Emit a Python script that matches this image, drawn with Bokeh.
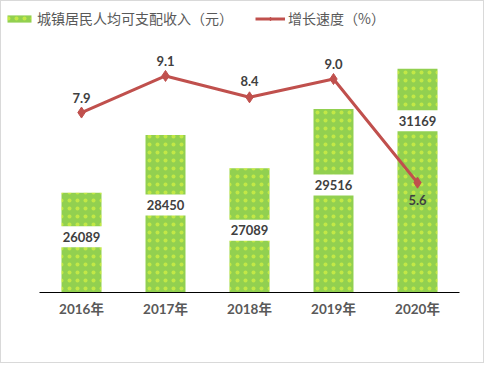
from bokeh.plotting import figure
from bokeh.layouts import column
from bokeh.models import (ColumnDataSource, Range1d, Legend, LegendItem,
                          LabelSet, FactorRange)
from bokeh.core.properties import value
from bokeh.embed import file_html
from bokeh.resources import INLINE

# ---- data ----
years = ["2016年", "2017年", "2018年", "2019年", "2020年"]
income = [26089, 28450, 27089, 29516, 31169]
growth = [7.9, 9.1, 8.4, 9.0, 5.6]
income_name = "城镇居民人均可支配收入（元）"
growth_name = "增长速度（%）"

# ---- layout / style (not data) ----
W = 484
H_TOP = 36
H = 363 - H_TOP
FRAME_TOP, FRAME_H = 48 - H_TOP, 244
Y0, Y1 = 22000, 32000          # income axis
G0, G1 = 2, 10                 # growth axis
bar_label_down_px = [44, 70, 62, 76, 52]   # label centre below bar top
line_label_px = [15, 15, 16, 15, -17]       # label centre above point
FONT = "Lato, 'Noto Sans CJK SC', sans-serif"
CJK = "'Noto Sans CJK SC', sans-serif"
GREEN, DOT, RED = "#92D050", "#F2FF3C", "#C0504D"
BORDER = "1px solid #D9D9D9"

u_per_px = (Y1 - Y0) / FRAME_H
bar_label_y = [v - d * u_per_px for v, d in zip(income, bar_label_down_px)]

src = ColumnDataSource(dict(
    year=years, income=income, growth=growth,
    income_txt=[str(v) for v in income],
    growth_txt=["%.1f" % g for g in growth],
    bar_label_y=bar_label_y,
    line_off=line_label_px,
))

bar_style = dict(fill_color=GREEN, line_color=None, hatch_pattern="dot",
                 hatch_color=DOT, hatch_scale=8, hatch_weight=0.5, hatch_alpha=0.5)

# ---- legend strip ----
top = figure(width=W, height=H_TOP, output_backend="svg", toolbar_location=None,
             x_range=Range1d(0, 1), y_range=Range1d(0, 1),
             min_border=0, min_border_left=0, min_border_right=0,
             min_border_top=0, min_border_bottom=0,
             x_axis_location=None, y_axis_location=None)
top.frame_align = False
top.outline_line_color = None
top.grid.visible = False
top.styles = {"border-top": BORDER, "border-left": BORDER, "border-right": BORDER,
              "box-sizing": "border-box"}
# off-canvas dummy points so the legend has glyphs to draw
dummy = ColumnDataSource(dict(x=[-5], y=[-5]))
lb = top.vbar(x="x", top="y", width=0.1, source=dummy, **bar_style)
ll = top.line(x="x", y="y", source=dummy, line_color=RED, line_width=3)
lm = top.scatter(x="x", y="y", source=dummy, marker="diamond", size=10,
                 fill_color=RED, line_color=RED)
legend = Legend(items=[LegendItem(label=income_name, renderers=[lb]),
                       LegendItem(label=growth_name, renderers=[ll, lm])],
                orientation="horizontal", location="top_left",
                glyph_width=30, glyph_height=9, label_standoff=3, spacing=22,
                padding=0, margin=3, label_height=28,
                label_text_font=CJK, label_text_font_size="14px",
                label_text_color="#595959", background_fill_alpha=0,
                border_line_color=None)
top.add_layout(legend, "center")

# ---- main chart ----
p = figure(width=W, height=H, output_backend="svg", toolbar_location=None,
           x_range=FactorRange(*years, range_padding=0),
           y_range=Range1d(Y0, Y1), y_axis_location=None,
           min_border_left=38, min_border_right=26,
           min_border_top=FRAME_TOP, min_border_bottom=H - FRAME_TOP - FRAME_H)
p.frame_align = False
p.extra_y_ranges = {"g": Range1d(G0, G1)}
p.outline_line_color = None
p.grid.visible = False
p.styles = {"border-bottom": BORDER, "border-left": BORDER, "border-right": BORDER,
            "box-sizing": "border-box"}

p.vbar(x="year", top="income", bottom=Y0, width=0.476, source=src, **bar_style)

# white boxes behind bar values
p.rect(x="year", y="bar_label_y", width=50, height=21, width_units="screen",
       height_units="screen", source=src, fill_color="white", line_color=None)
p.text(x="year", y="bar_label_y", text="income_txt", source=src,
       text_align="center", text_baseline="middle", text_font=value(FONT),
       text_font_style="bold", text_font_size="13px", text_color="#404040")

p.line(x="year", y="growth", source=src, y_range_name="g",
       line_color=RED, line_width=3)
p.scatter(x="year", y="growth", source=src, y_range_name="g",
          marker="diamond", size=11, fill_color=RED, line_color=RED)
p.add_layout(LabelSet(x="year", y="growth", text="growth_txt", y_offset="line_off",
                      y_range_name="g", source=src, text_align="center",
                      text_baseline="middle", text_font=value(FONT),
                      text_font_style="bold", text_font_size="13px",
                      text_color="#404040"))

ax = p.xaxis[0]
ax.axis_line_color = "#000000"
ax.axis_line_width = 1
ax.major_tick_line_color = None
ax.minor_tick_line_color = None
ax.major_label_standoff = 2
ax.major_label_text_font = FONT
ax.major_label_text_font_style = "bold"
ax.major_label_text_font_size = "13.5px"
ax.major_label_text_color = "#595959"

layout = column(top, p, spacing=0)
open("out.html", "w").write(file_html(layout, INLINE))
